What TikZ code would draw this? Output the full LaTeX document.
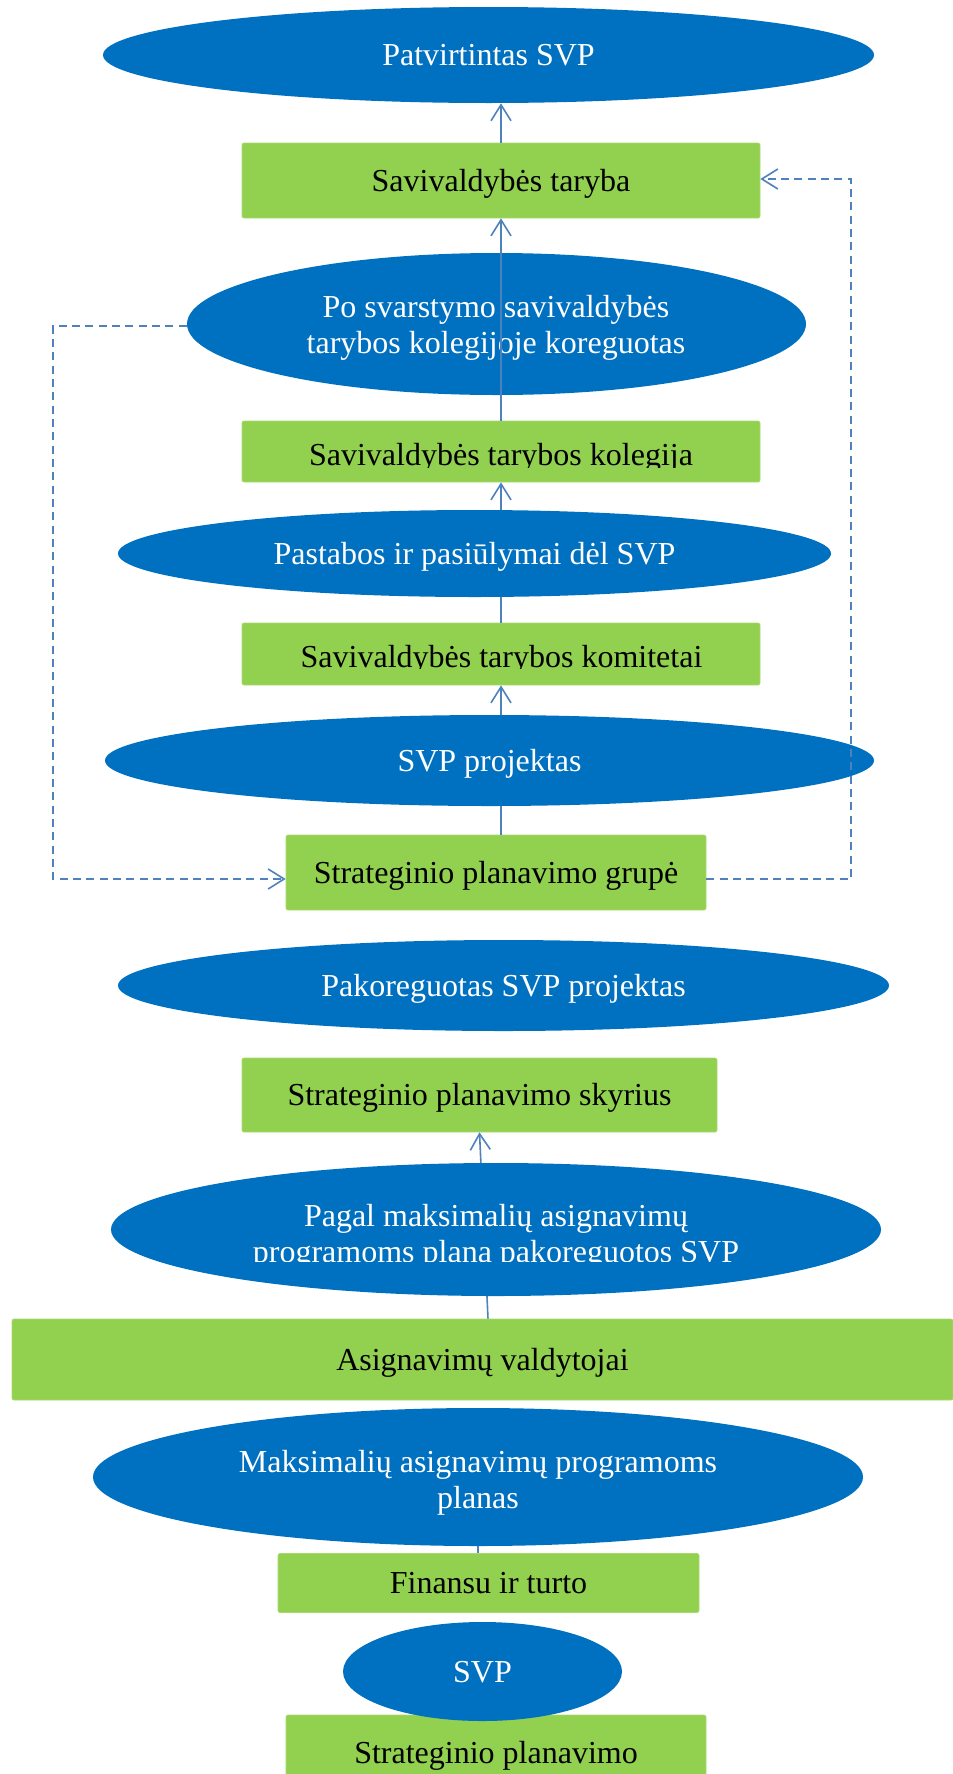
\documentclass[tikz,border=0pt]{standalone}
\usepackage{fontspec}
\setmainfont{Liberation Serif}
\usetikzlibrary{shapes.geometric,arrows.meta,calc}
\definecolor{ellblue}{HTML}{0070C0}
\definecolor{boxgreen}{HTML}{92D050}
\definecolor{boxedge}{HTML}{A6DA6E}
\definecolor{linec}{HTML}{4F81BD}
\newcommand{\mainsz}{\fontsize{24}{27}\selectfont}
\begin{document}
\begin{tikzpicture}[x=0.75pt,y=-0.75pt,
  sz/.style 2 args={minimum width=#1*0.75pt, minimum height=#2*0.75pt},
  gbox/.style={rectangle, rounded corners=1.5pt, fill=boxgreen, draw=boxedge, line width=0.5pt,
    inner sep=0pt, text=black, font=\mainsz, text height=16pt, text depth=0pt},
  bell/.style={ellipse, fill=ellblue, draw=none, inner sep=0pt, text=white, font=\mainsz,
    text height=16pt, text depth=0pt},
  bellempty/.style={ellipse, fill=ellblue, draw=none, inner sep=0pt},
  etext/.style={inner sep=0pt, text=white, font=\mainsz, align=center},
  btext/.style={inner sep=0pt, text=black, font=\mainsz, anchor=base},
  conn/.style={draw=linec, line width=1.2pt},
  arr/.style={conn, -{Straight Barb[length=12pt,width=15pt,line width=1.2pt]}},
  darr/.style={conn, dash pattern=on 6pt off 4pt, -{Straight Barb[length=12pt,width=15pt,line width=1.2pt]}}
]
\useasboundingbox (0,0) rectangle (953,1774);
\clip (0,0) rectangle (953,1774);

% nodes
\node[bell, sz={771}{96}] (e1) at (488.5,55) {Patvirtintas SVP};
\node[gbox, sz={518}{75}] (taryba) at (501,180.5) {Savivaldybės taryba};
\node[bellempty, sz={619}{142}] (e2) at (496.5,324) {};
\node[etext] (t2) at (496,327.5) {Po svarstymo savivaldybės\\tarybos kolegijoje koreguotas};
\node[gbox, sz={518}{61}] (kolegija) at (501,451.5) {};
\begin{scope}
  \clip (242,421) rectangle (760,467);
  \node[btext] (tkol) at (501,465) {Savivaldybės tarybos kolegija};
\end{scope}
\node[bell, sz={713}{87}] (e3) at (474.5,553.5) {Pastabos ir pasiūlymai dėl SVP};
\node[gbox, sz={518}{62}] (komitetai) at (501,654) {};
\begin{scope}
  \clip (242,623) rectangle (760,668);
  \node[btext] (tkom) at (501.5,667) {Savivaldybės tarybos komitetai};
\end{scope}
\node[bell, sz={769}{91}] (e4) at (489.5,760.5) {SVP projektas};
\node[gbox, sz={420}{75}] (grupe) at (496,872.5) {Strateginio planavimo grupė};
\node[bell, sz={771}{91}] (e5) at (503.5,985.5) {Pakoreguotas SVP projektas};
\node[gbox, sz={475}{74}] (skyrius) at (479.5,1095) {Strateginio planavimo skyrius};
\node[gbox, sz={941}{81}] (asig) at (482.5,1359.5) {Asignavimų valdytojai};
\node[gbox, sz={421}{59}] (finansu) at (488.5,1583) {Finansu ir turto};
\node[gbox, sz={420}{75}] (strat) at (496,1752.5) {Strateginio planavimo};
\node[bell, sz={279}{99}] (e8) at (482.5,1671.5) {SVP};

% top connectors
\draw[arr] (taryba.north) -- (taryba.north |- e1.south);
\draw[arr] (kolegija.north) -- (taryba.south);
\draw[arr] (e3.north -| kolegija.south) -- (kolegija.south);
\draw[conn] (komitetai.north) -- (komitetai.north |- e3.south);
\draw[arr] (e4.north -| komitetai.south) -- (komitetai.south);
\draw[conn] (grupe.north -| komitetai.south) -- (e4.south -| komitetai.south);

% dashed feedback loops
\coordinate (dl) at (53,879);
\coordinate (dr) at (851,879);
\draw[darr] ($(e2.west)+(0,2)$) -| (dl) -- (dl -| grupe.west);
\draw[darr] (dr -| grupe.east) -- (dr) |- ($(taryba.east)+(0,-1.5)$);

% lower section
\draw[arr] ($(asig.north)+(5.5,0)$) -- (skyrius.south);
\node[bellempty, sz={770}{133}] (e6) at (496,1229.5) {};
\begin{scope}
  \clip (100,1150) rectangle (900,1261);
  \node[etext] (t6) at (496,1236.5) {Pagal maksimalių asignavimų\\programoms planą pakoreguotos SVP};
\end{scope}
\node[bellempty, sz={770}{138}] (e7) at (478,1477) {};
\node[etext] (t7) at (478,1482.5) {Maksimalių asignavimų programoms\\planas};
\draw[conn] (e7.south) -- (e7.south |- finansu.north);
\end{tikzpicture}
\end{document}
